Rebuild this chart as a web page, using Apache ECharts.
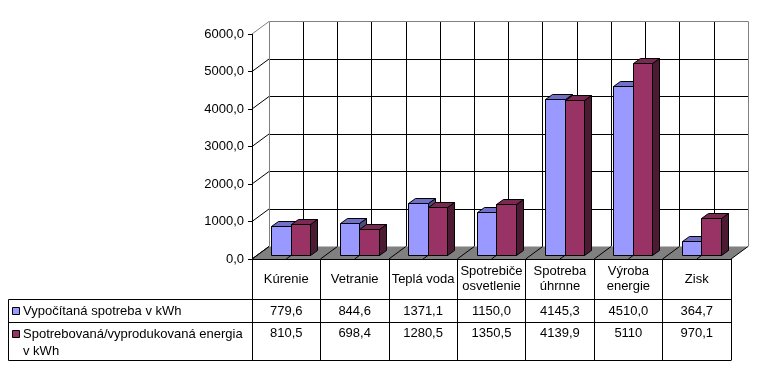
<!DOCTYPE html>
<html><head><meta charset="utf-8">
<script src="https://cdn.jsdelivr.net/npm/echarts@6/dist/echarts.min.js"></script>
<style>html,body{margin:0;padding:0;background:#fff}#c{width:759px;height:382px}</style>
</head><body><div id="c"></div>
<script>
// ---- data ----
const categories = ['Kúrenie', 'Vetranie', 'Teplá voda', 'Spotrebiče\nosvetlenie', 'Spotreba\núhrnne', 'Výroba\nenergie', 'Zisk'];
const seriesNames = ['Vypočítaná spotreba v kWh', 'Spotrebovaná/vyprodukovaná energia\nv kWh'];
const calcLabels = ['779,6', '844,6', '1371,1', '1150,0', '4145,3', '4510,0', '364,7'];
const usedLabels = ['810,5', '698,4', '1280,5', '1350,5', '4139,9', '5110', '970,1'];
const yTicks = [0, 1000, 2000, 3000, 4000, 5000, 6000];
const calcValues = calcLabels.map(s => parseFloat(s.replace(',', '.')));
const usedValues = usedLabels.map(s => parseFloat(s.replace(',', '.')));

// ---- layout / style ----
const FONT = '"Liberation Sans", Arial, sans-serif';
const F = { left: 252, top: 34, width: 479, height: 225 };
const DX = 17, DY = -12.5;
const colBlue = { face: '#9999FF', top: '#7070C8', side: '#4D4D80' };
const colRed = { face: '#993366', top: '#7A2952', side: '#4D1A33' };
const px = v => Math.round(v - 0.5) + 0.5;

function barRender(colors, side) {
  return function (params, api) {
    const idx = api.value(0), v = api.value(1);
    const t = api.coord([idx, v]);
    const b = api.coord([idx, 0]);
    const band = api.size([1, 0])[0];
    const w = band * 0.285;
    const f0 = 0.3, f1 = 0.72;
    const ox = DX * f0, oy = DY * f0;
    const ddx = Math.round(DX * (f1 - f0)), ddy = Math.round(DY * (f1 - f0));
    const cx = t[0] + ox;
    const x0 = px(side < 0 ? cx - w : cx);
    const x1 = px(side < 0 ? cx : cx + w);
    const yT = px(t[1] + oy), yB = px(b[1] + oy);
    const st = { stroke: '#000', lineWidth: 1 };
    return {
      type: 'group', children: [
        { type: 'polygon', shape: { points: [[x1, yB], [x1 + ddx, yB + ddy], [x1 + ddx, yT + ddy], [x1, yT]] }, style: Object.assign({ fill: colors.side }, st) },
        { type: 'polygon', shape: { points: [[x0, yT], [x1, yT], [x1 + ddx, yT + ddy], [x0 + ddx, yT + ddy]] }, style: Object.assign({ fill: colors.top }, st) },
        { type: 'rect', shape: { x: x0, y: yT, width: x1 - x0, height: yB - yT }, style: Object.assign({ fill: colors.face }, st) }
      ]
    };
  };
}

function frameRender(params, api) {
  const cs = params.coordSys;
  const x = cs.x, w = cs.width, yb = cs.y + cs.height, yt = cs.y;
  const ch = [];
  ch.push({ type: 'polygon', shape: { points: [[x, yb], [x + w, yb], [x + w + DX, yb + DY], [x + DX, yb + DY]] }, style: { fill: '#808080' } });
  for (let k = 0; k <= 14; k++) {
    const xk = x + k * w / 14;
    ch.push({ type: 'line', shape: { x1: xk, y1: yb, x2: xk + DX, y2: yb + DY }, style: { stroke: '#000', lineWidth: 1 } });
  }
  yTicks.forEach((v, i) => {
    const y = api.coord([0, v])[1];
    ch.push({ type: 'line', shape: { x1: x, y1: y, x2: x + DX, y2: y + DY }, style: { stroke: i === yTicks.length - 1 ? '#808080' : '#000', lineWidth: 1 } });
  });
  const bx0 = px(x + DX), bx1 = px(x + w + DX), by0 = px(yt + DY), by1 = yb + DY;
  ch.push({ type: 'polyline', shape: { points: [[bx0, by1], [bx0, by0], [bx1, by0], [bx1, by1]] }, style: { stroke: '#808080', lineWidth: 1, fill: null } });
  return { type: 'group', children: ch };
}

const chart = echarts.init(document.getElementById('c'), null, { renderer: 'canvas' });
const txt = { fontFamily: FONT, fontSize: 13, color: '#000' };
const tableBottom = F.top + F.height + 101;
const row1 = F.top + F.height + 40, row2 = F.top + F.height + 63;

chart.setOption({
  animation: false,
  backgroundColor: '#fff',
  textStyle: { fontFamily: FONT },
  grid: [
    { left: F.left, top: F.top, width: F.width, height: F.height },
    { left: F.left + DX, top: F.top + DY, width: F.width, height: F.height }
  ],
  xAxis: [
    { type: 'category', gridIndex: 0, data: categories, position: 'bottom',
      axisLine: { lineStyle: { color: '#000', width: 1 } },
      axisTick: { show: true, length: 101, interval: 0, lineStyle: { color: '#000' } },
      axisLabel: Object.assign({ interval: 0, margin: 20, verticalAlign: 'middle', lineHeight: 15, align: 'center' }, txt),
      splitLine: { show: false } },
    { type: 'category', gridIndex: 0, data: calcLabels, position: 'bottom', offset: 0,
      axisLine: { show: false }, axisTick: { show: false },
      axisLabel: Object.assign({ interval: 0, margin: 52.5, verticalAlign: 'middle' }, txt) },
    { type: 'category', gridIndex: 0, data: usedLabels, position: 'bottom', offset: 0,
      axisLine: { show: false }, axisTick: { show: false },
      axisLabel: Object.assign({ interval: 0, margin: 74, verticalAlign: 'middle' }, txt) },
    { type: 'value', gridIndex: 1, min: 0, max: 14, interval: 1,
      axisLine: { show: false }, axisTick: { show: false }, axisLabel: { show: false },
      splitLine: { show: true, showMinLine: false, showMaxLine: false, lineStyle: { color: '#000', width: 1 } } }
  ],
  yAxis: [
    { type: 'value', gridIndex: 0, min: 0, max: 6000, interval: 1000,
      axisLine: { show: true, lineStyle: { color: '#000' } },
      axisTick: { show: true, length: 4, lineStyle: { color: '#000' } },
      axisLabel: Object.assign({ margin: 8, formatter: v => v.toFixed(1).replace('.', ',') }, txt),
      splitLine: { show: false } },
    { type: 'value', gridIndex: 1, min: 0, max: 6000, interval: 1000,
      axisLine: { show: false }, axisTick: { show: false }, axisLabel: { show: false },
      splitLine: { show: true, showMinLine: false, showMaxLine: false, lineStyle: { color: '#000', width: 1 } } }
  ],
  series: [
    { type: 'custom', name: 'frame', xAxisIndex: 0, yAxisIndex: 0, z: 2, silent: true,
      data: [[0, 0]], renderItem: frameRender },
    { type: 'custom', name: seriesNames[0], xAxisIndex: 0, yAxisIndex: 0, z: 3,
      data: calcValues.map((v, i) => [i, v]), renderItem: barRender(colBlue, -1) },
    { type: 'custom', name: seriesNames[1], xAxisIndex: 0, yAxisIndex: 0, z: 4,
      data: usedValues.map((v, i) => [i, v]), renderItem: barRender(colRed, 1) }
  ],
  graphic: [
    { type: 'polyline', shape: { points: [[F.left + F.width + 0.5, row1 + 0.5], [8.5, row1 + 0.5], [8.5, tableBottom + 0.5], [F.left + F.width + 0.5, tableBottom + 0.5]] }, style: { stroke: '#000', lineWidth: 1, fill: null } },
    { type: 'line', shape: { x1: 8.5, y1: row2 + 0.5, x2: F.left + F.width + 0.5, y2: row2 + 0.5 }, style: { stroke: '#000', lineWidth: 1 } },
    { type: 'rect', shape: { x: 12.5, y: row1 + 8.5, width: 7, height: 7 }, style: { fill: colBlue.face, stroke: '#000', lineWidth: 1 } },
    { type: 'rect', shape: { x: 12.5, y: row2 + 8.5, width: 7, height: 7 }, style: { fill: colRed.face, stroke: '#000', lineWidth: 1 } },
    { type: 'text', x: 23, y: row1 + 12.5, style: { text: seriesNames[0], font: '13px ' + FONT, fill: '#000', verticalAlign: 'middle' } },
    { type: 'text', x: 23, y: row2 + 4, style: { text: seriesNames[1], font: '13px ' + FONT, fill: '#000', verticalAlign: 'top', lineHeight: 17 } }
  ]
});
</script></body></html>
